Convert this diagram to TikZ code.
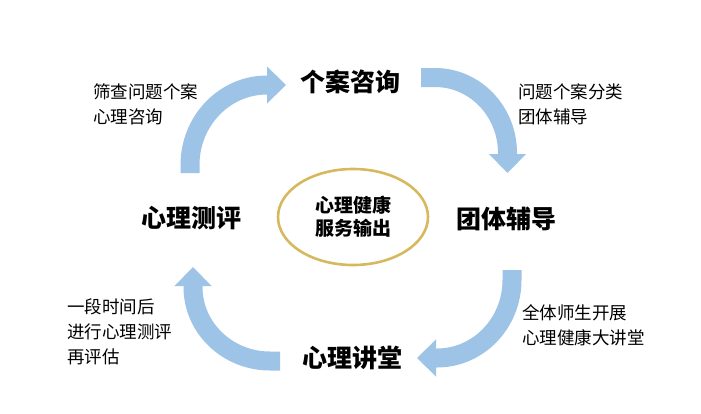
\documentclass[tikz,border=0pt]{standalone}
\usepackage{fontspec}
\setmainfont{Noto Sans CJK SC}
\usepackage{tikz}
\usetikzlibrary{arrows.meta,positioning,shapes.geometric}
\definecolor{cblue}{HTML}{9DC3E6}
\definecolor{cgold}{HTML}{D6B85E}
\tikzset{
  stage/.style = {font=\fontsize{25}{28}\selectfont\bfseries, inner sep=0pt},
  note/.style  = {font=\fontsize{17.5}{25}\selectfont, align=left, inner sep=0pt, anchor=west},
  core/.style  = {ellipse, draw=cgold, line width=2.6pt, minimum width=150pt,
                  minimum height=96pt, align=center, inner sep=0pt,
                  font=\fontsize{19}{23}\selectfont\bfseries},
  flow/.style  = {draw=cblue, line width=19pt,
                  -{Triangle[length=19pt, width=36pt]}},
}
\begin{document}
\begin{tikzpicture}[x=1pt, y=-1pt]
  \useasboundingbox (0,0) rectangle (701,413);
  % stages
  \node[stage] (consult) at (350,82)  {个案咨询};
  \node[stage] (group)   at (506,219) {团体辅导};
  \node[stage] (lecture) at (352,358) {心理讲堂};
  \node[stage] (assess)  at (191,218) {心理测评};
  \node[core]  (hub)     at (353,217) {心理健康\\服务输出};
  % notes
  \node[note] (n1) at (93,104)  {筛查问题个案\\心理咨询};
  \node[note] (n2) at (518,104) {问题个案分类\\团体辅导};
  \node[note] (n3) at (522,325) {全体师生开展\\心理健康大讲堂};
  \node[note] (n4) at (67,332)  {一段时间后\\进行心理测评\\再评估};
  % arrows
  \coordinate (a1) at (190,173);
  \coordinate (a2) at (421,77.5);
  \coordinate (a3) at (512,270);
  \coordinate (a4) at (280,361);
  \draw[flow] (a1) -- (190,165) .. controls (190,120.8) and (224.5,85) .. (267,85) -- (286,85);
  \draw[flow] (a2) -- (435,77.5) .. controls (475,77.5) and (507.5,111.3) .. (507.5,153) -- (507.5,173);
  \draw[flow] (a3) -- (512,280) .. controls (512,323.1) and (478.4,358) .. (437,358) -- (417,358);
  \draw[flow] (a4) -- (270,361) .. controls (227.5,361) and (193,327.9) .. (193,287) -- (193,267);
\end{tikzpicture}
\end{document}
